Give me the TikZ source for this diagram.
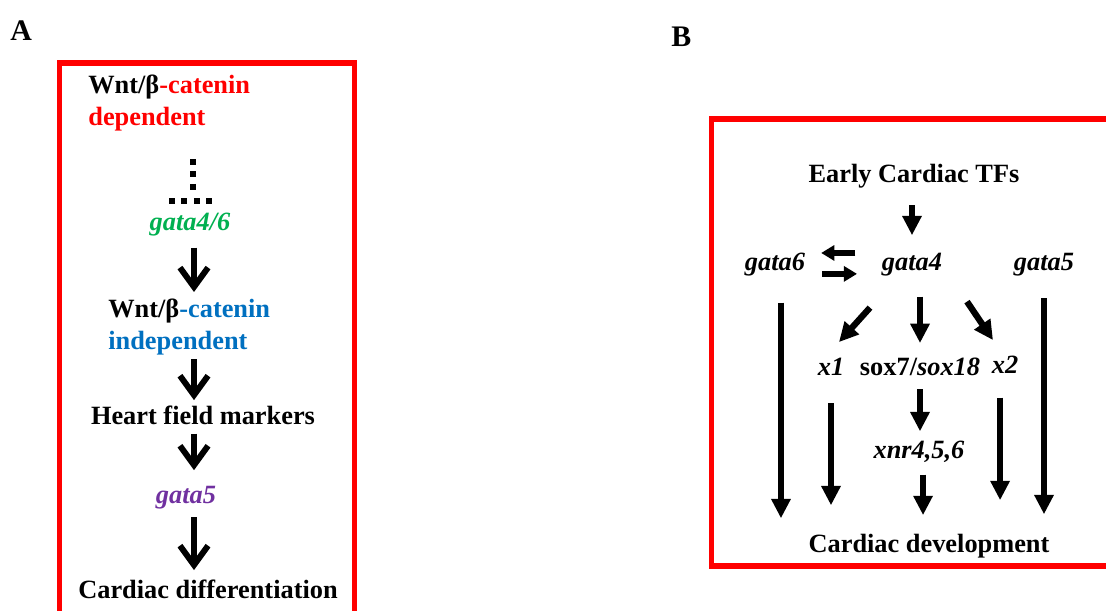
\documentclass[tikz,border=0pt]{standalone}
\usepackage{fontspec}
\setmainfont{Liberation Serif}
\usepackage{xcolor}
\usepackage{tikz}
\usetikzlibrary{arrows.meta,positioning,calc}
\definecolor{boxred}{RGB}{255,0,0}
\definecolor{depred}{RGB}{255,0,0}
\definecolor{gatagreen}{RGB}{0,176,80}
\definecolor{indblue}{RGB}{0,112,192}
\definecolor{gatapurple}{RGB}{112,48,160}

\begin{document}
\begin{tikzpicture}[x=0.02cm,y=-0.02cm,
  lbl/.style={font=\fontsize{15}{17.8}\selectfont\bfseries,inner sep=0pt,
              text height=10pt,text depth=3pt,anchor=base},
  gene/.style={lbl,font=\fontsize{15}{17.8}\selectfont\bfseries\itshape},
  twoline/.style={font=\fontsize{15}{17.8}\selectfont\bfseries,inner sep=0pt,
                  align=left,anchor=north west},
  panlab/.style={font=\fontsize{17}{20}\selectfont\bfseries,inner sep=0pt,anchor=base west},
  panel/.style={draw=boxred,line width=3.4pt},
  openar/.style={-{Straight Barb[length=11pt,width=16pt,line width=3.4pt]},line width=3pt},
  ar/.style={-{Triangle[length=11pt,width=10.5pt]},line width=3.6pt},
  smallar/.style={-{Triangle[length=7.5pt,width=8.5pt]},line width=3.6pt},
  dotline/.style={line width=3.4pt,dash pattern=on 3.4pt off 3.7pt}
]
\clip (0,0) rectangle (1106,610);

% panel A
\node[panlab] (labA) at (10,40) {A};
\draw[panel] (59.5,63) rectangle (354.5,640);

\node[twoline] (dep) at (88,75) {Wnt/β\textcolor{depred}{-catenin}\\\textcolor{depred}{dependent}};
\coordinate (dtop) at (193,159);
\coordinate (dbot) at (193,192);
\coordinate (teeL) at (169,201);
\coordinate (teeR) at (214,201);
\draw[dotline] (dtop) -- (dbot);
\draw[dotline] (teeL) -- (teeR);
\node[gene,text=gatagreen] (gata46) at (190,230) {gata4/6};
\node[twoline] (indep) at (108,299) {Wnt/β\textcolor{indblue}{-catenin}\\\textcolor{indblue}{independent}};
\node[lbl] (heart) at (203,424) {Heart field markers};
\node[gene,text=gatapurple] (gata5A) at (186,503) {gata5};
\node[lbl] (cardA) at (208,598) {Cardiac differentiation};
\coordinate (axA) at (194,0);

\draw[openar,shorten <=6.8pt,shorten >=4pt] (gata46.south -| axA) -- (indep.north -| axA);
\draw[openar,shorten <=2.3pt,shorten >=3.4pt] (indep.south -| axA) -- (heart.north -| axA);
\draw[openar,shorten <=2.3pt,shorten >=8.5pt] (heart.south -| axA) -- (gata5A.north -| axA);
\draw[openar,shorten <=5pt,shorten >=5.7pt] (gata5A.south -| axA) -- (cardA.north -| axA);

% panel B
\node[panlab] (labB) at (671,46) {B};
\draw[panel] (711.5,119) rectangle (1130,566);

\node[lbl] (early) at (914,182) {Early Cardiac TFs};
\node[gene] (g6) at (775,270) {gata6};
\node[gene] (g4) at (912,270) {gata4};
\node[gene] (g5) at (1044,270) {gata5};
\node[gene] (x1) at (831,375) {x1};
\node[lbl] (sox) at (920,375) {sox7/\textit{sox18}};
\node[gene] (x2) at (1005,373) {x2};
\node[gene] (xnr) at (919,458) {xnr4,5,6};
\node[lbl] (dev) at (929,552) {Cardiac development};

\draw[ar,shorten <=10pt,shorten >=9.6pt] (early.south -| g4.north) -- (g4.north);
\draw[smallar,shorten <=15pt,shorten >=9pt] ([yshift=6.2pt]g4.west) -- ([yshift=6.2pt]g6.east);
\draw[smallar,shorten <=9.5pt,shorten >=14pt] ([yshift=-5.7pt]g6.east) -- ([yshift=-5.7pt]g4.west);
\draw[ar] ([shift={(-42,32)}]g4.south) -- ([shift={(8,-15)}]x1.north);
\draw[ar,shorten <=12pt,shorten >=8pt] (g4.south -| sox.north) -- (sox.north);
\draw[ar] ([shift={(55,26)}]g4.south) -- ([shift={(-12,-15)}]x2.north);
\draw[ar,shorten <=15.3pt,shorten >=9pt] ([xshift=3.4pt]g6.south) -- ([xshift=3.4pt]g6.south |- dev.north);
\draw[ar,shorten <=13pt,shorten >=11.3pt] (g5.south) -- (g5.south |- dev.north);
\draw[ar,shorten <=13pt,shorten >=16.4pt] (x1.south) -- (x1.south |- dev.north);
\draw[ar,shorten <=5pt,shorten >=5pt] (sox.south) -- (sox.south |- xnr.north);
\draw[ar,shorten <=10.8pt,shorten >=19.3pt] ([xshift=-2.8pt]x2.south) -- ([xshift=-2.8pt]x2.south |- dev.north);
\draw[ar,shorten <=6.2pt,shorten >=10.8pt] ([xshift=2.3pt]xnr.south) -- ([xshift=2.3pt]xnr.south |- dev.north);
\end{tikzpicture}
\end{document}
